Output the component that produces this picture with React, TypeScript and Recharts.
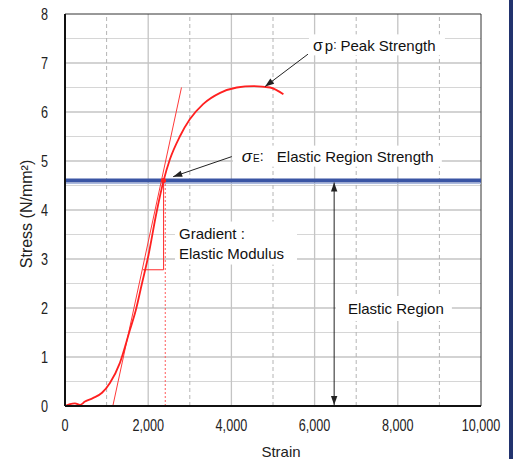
import React from 'react';
import { ComposedChart, Line, XAxis, YAxis, ReferenceLine, ReferenceDot } from 'recharts';

// ---- data ----
const curveStrain = [0, 120, 240, 360, 480, 670, 890, 1080, 1320, 1560, 1700, 1850, 2000, 2200, 2370, 2520, 2760, 3000, 3320, 3730, 4130, 4530, 4930, 5250];
const curveStress = [0, 0.04, 0.055, 0.02, 0.09, 0.16, 0.27, 0.47, 0.88, 1.55, 1.95, 2.5, 3.05, 3.95, 4.6, 5.03, 5.5, 5.85, 6.16, 6.39, 6.5, 6.53, 6.5, 6.36];
const tangentStrain = [1150, 2800];
const tangentStress = [0, 6.5];
const xTicks = [0, 2000, 4000, 6000, 8000, 10000];
const yTicks = [0, 1, 2, 3, 4, 5, 6, 7, 8];
const yHalf = [0.5, 1.5, 2.5, 3.5, 4.5, 5.5, 6.5, 7.5];
const xDashed = [1000, 3000, 5000, 7000, 9000];
const elasticStrength = 4.6;
const elasticStrain = 2370;
const peakPoint = { x: 4810, y: 6.52 };
const gradientBase = { x: 1870, y: 2.78 };
const elasticArrowX = 6470;

const curveData = curveStrain.map((x, i) => ({ x, y: curveStress[i] }));
const tangentData = tangentStrain.map((x, i) => ({ x, y: tangentStress[i] }));

const FONT = "'Liberation Sans', Arial, sans-serif";

function head(x1: number, y1: number, x2: number, y2: number, len = 9, w = 3.2) {
  const a = Math.atan2(y2 - y1, x2 - x1);
  const bx = x2 - len * Math.cos(a);
  const by = y2 - len * Math.sin(a);
  const px = -Math.sin(a) * w;
  const py = Math.cos(a) * w;
  return `${x2},${y2} ${bx + px},${by + py} ${bx - px},${by - py}`;
}

const arrowShape = (both: boolean) => (p: any) => {
  const { x1, y1, x2, y2 } = p;
  return (
    <g>
      <line x1={x1} y1={y1} x2={x2} y2={y2} stroke="#222" strokeWidth={1} />
      <polygon points={head(x1, y1, x2, y2)} fill="#222" />
      {both && <polygon points={head(x2, y2, x1, y1)} fill="#222" />}
    </g>
  );
};

const boxText = (
  box: { dx: number; dy: number; w: number; h: number },
  content: (x: number, y: number) => React.ReactNode
) => (p: any) => (
  <g>
    <rect x={p.cx + box.dx} y={p.cy + box.dy} width={box.w} height={box.h} fill="#fff" />
    {content(p.cx, p.cy)}
  </g>
);

const XTick = (p: any) => {
  const { x, y, payload } = p;
  return (
    <text transform={`translate(${x},${y + 19}) scale(0.79,1)`} textAnchor="middle" dominantBaseline="central" fontSize={16} fill="#222" fontFamily={FONT}>
      {Number(payload.value).toLocaleString('en-US')}
    </text>
  );
};

const YTick = (p: any) => {
  const { x, y, payload } = p;
  return (
    <text transform={`translate(${x},${y}) scale(0.79,1)`} textAnchor="end" dominantBaseline="central" fontSize={16} fill="#222" fontFamily={FONT}>
      {payload.value}
    </text>
  );
};

export default function App() {
  return (
    <div style={{ position: 'absolute', left: 0, top: 0, width: 513, height: 459, background: '#fff' }}>
      <div style={{ position: 'absolute', left: 509, top: 0, width: 4, height: 459, background: '#22336e' }} />
      <ComposedChart width={513} height={459} margin={{ top: 14, right: 32, left: 0, bottom: 0 }} style={{ fontFamily: FONT }}>
        <XAxis
          type="number"
          dataKey="x"
          domain={[0, 10000]}
          ticks={xTicks}
          height={53}
          axisLine={{ stroke: '#111', strokeWidth: 2 }}
          tickLine={false}
          tickSize={0}
          tickMargin={0}
          tick={<XTick />}
          label={(props: any) => {
            const vb = props.viewBox || { x: 65, y: 406, width: 416, height: 53 };
            const cx = vb.x + vb.width / 2 + 8;
            return (
              <text x={cx} y={451} textAnchor="middle" dominantBaseline="central" fontSize={15} fill="#222" fontFamily={FONT}>
                Strain
              </text>
            );
          }}
        />
        <YAxis
          type="number"
          domain={[0, 8]}
          ticks={yTicks}
          width={65}
          axisLine={{ stroke: '#111', strokeWidth: 2 }}
          tickLine={false}
          tickSize={0}
          tickMargin={17}
          tick={<YTick />}
          label={(props: any) => {
            const vb = props.viewBox || { x: 0, y: 14, width: 65, height: 392 };
            const cx = vb.x + 26;
            const cy = vb.y + vb.height / 2 + 4;
            return (
              <text x={cx} y={cy} transform={`rotate(-90 ${cx} ${cy})`} textAnchor="middle" dominantBaseline="central" fontSize={16} fill="#222" fontFamily={FONT}>
                Stress (N/mm²)
              </text>
            );
          }}
        />
        {/* grid */}
        {yHalf.map((v) => (
          <ReferenceLine key={'yh' + v} y={v} stroke="#d6d6d6" strokeWidth={1} />
        ))}
        {yTicks.slice(1, 8).map((v) => (
          <ReferenceLine key={'y' + v} y={v} stroke="#c4c4c4" strokeWidth={1.3} />
        ))}
        {xDashed.map((v) => (
          <ReferenceLine key={'xd' + v} x={v} stroke="#b4b4b4" strokeWidth={1} strokeDasharray="4 3" />
        ))}
        {xTicks.slice(1, 5).map((v) => (
          <ReferenceLine key={'x' + v} x={v} stroke="#c4c4c4" strokeWidth={1.3} />
        ))}
        <ReferenceLine y={8} stroke="#333" strokeWidth={1} />
        <ReferenceLine x={10000} stroke="#333" strokeWidth={1} />

        {/* elastic strength line */}
        <ReferenceLine y={4.54} stroke="#a9b8dc" strokeWidth={1} />
        <ReferenceLine y={elasticStrength} stroke="#3a55a4" strokeWidth={4} />

        {/* gradient construction */}
        <ReferenceLine segment={[{ x: 2410, y: 0 }, { x: 2410, y: elasticStrength }]} stroke="#ff5a5a" strokeWidth={1} strokeDasharray="2 2" />
        <ReferenceLine segment={[{ x: elasticStrain, y: elasticStrength }, { x: elasticStrain, y: gradientBase.y }]} stroke="#ff2a2a" strokeWidth={1} />
        <ReferenceLine segment={[{ x: gradientBase.x, y: gradientBase.y }, { x: elasticStrain, y: gradientBase.y }]} stroke="#ff2a2a" strokeWidth={1} />

        <Line data={tangentData} dataKey="y" type="linear" stroke="#ff3a3a" strokeWidth={1} dot={false} isAnimationActive={false} />
        <Line data={curveData} dataKey="y" type="monotone" stroke="#ff2020" strokeWidth={1.8} dot={false} isAnimationActive={false} />
        <ReferenceDot x={elasticStrain} y={elasticStrength} r={2.5} fill="#ff2020" stroke="none" />

        {/* arrows */}
        <ReferenceLine segment={[{ x: 5840, y: 7.18 }, { x: peakPoint.x, y: peakPoint.y }]} shape={arrowShape(false)} />
        <ReferenceLine segment={[{ x: 4010, y: 5.09 }, { x: 2600, y: 4.68 }]} shape={arrowShape(false)} />
        <ReferenceLine segment={[{ x: elasticArrowX, y: 4.56 }, { x: elasticArrowX, y: 0.02 }]} shape={arrowShape(true)} />

        {/* labelled boxes */}
        <ReferenceDot
          x={5960}
          y={7.36}
          r={0}
          shape={boxText({ dx: -4, dy: -11, w: 136, h: 21 }, (x, y) => (
            <text x={x} y={y} dominantBaseline="central" fontSize={15} fill="#111" fontFamily={FONT}>
              <tspan fontSize={16}>σ</tspan>
              <tspan dx={2}>p</tspan>
              <tspan fontSize={12}>:</tspan>
              <tspan dx={4}>Peak Strength</tspan>
            </text>
          ))}
        />
        <ReferenceDot
          x={4250}
          y={5.11}
          r={0}
          shape={boxText({ dx: -9, dy: -10, w: 209, h: 21 }, (x, y) => (
            <text x={x} y={y} dominantBaseline="central" fontSize={15} fill="#111" fontFamily={FONT}>
              <tspan fontSize={17} fontStyle="italic">σ</tspan>
              <tspan fontSize={10} dy={2} dx={1}>E</tspan>
              <tspan dy={-2} fontSize={14}>:</tspan>
              <tspan x={x + 35}>Elastic Region Strength</tspan>
            </text>
          ))}
        />
        <ReferenceDot
          x={2740}
          y={3.54}
          r={0}
          shape={boxText({ dx: -4, dy: -11, w: 122, h: 43 }, (x, y) => (
            <text x={x} y={y} dominantBaseline="central" fontSize={15} fill="#111" fontFamily={FONT}>
              <tspan x={x}>Gradient :</tspan>
              <tspan x={x} dy={20}>Elastic Modulus</tspan>
            </text>
          ))}
        />
        <ReferenceDot
          x={6800}
          y={2.0}
          r={0}
          shape={boxText({ dx: -12, dy: -12, w: 116, h: 25 }, (x, y) => (
            <text x={x} y={y} dominantBaseline="central" fontSize={15} fill="#111" fontFamily={FONT}>
              Elastic Region
            </text>
          ))}
        />
      </ComposedChart>
    </div>
  );
}
